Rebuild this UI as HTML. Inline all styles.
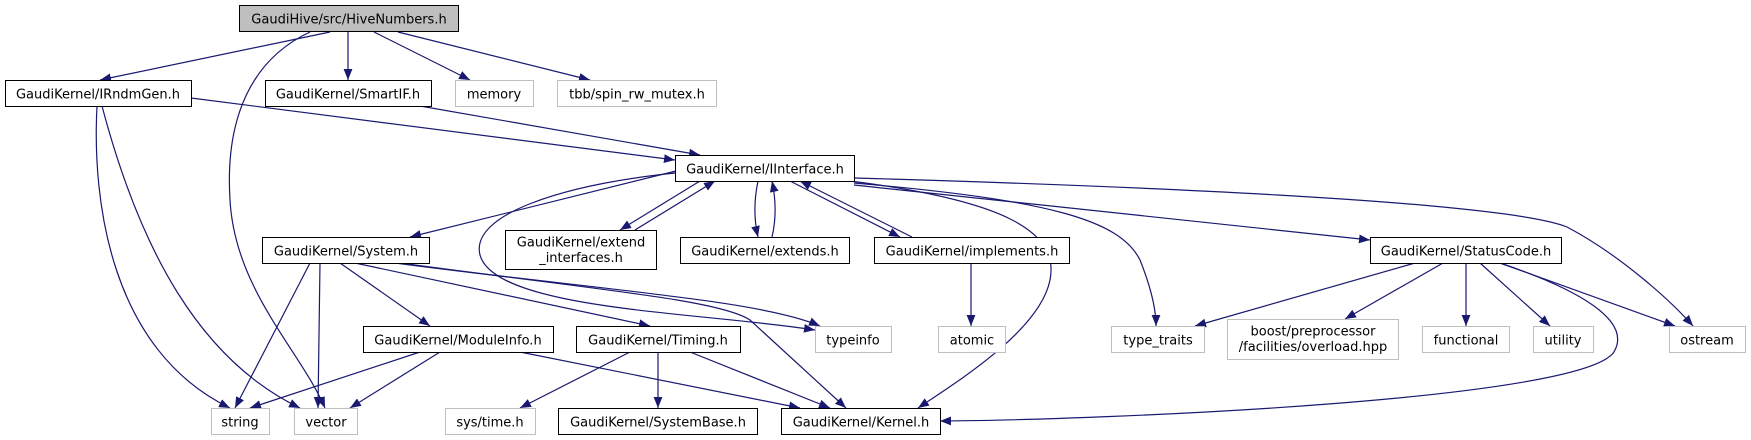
<!DOCTYPE html>
<html><head><meta charset="utf-8"><style>
html,body{margin:0;padding:0;background:#fff;width:1751px;height:440px;overflow:hidden}
svg text{font-family:"DejaVu Sans","Liberation Sans",sans-serif;font-size:13px;fill:#000}
</style></head><body>
<svg width="1751" height="440" viewBox="0 0 1751 440" xmlns="http://www.w3.org/2000/svg">
<defs><marker id="a" viewBox="0 0 10 10" refX="10" refY="5" markerWidth="11" markerHeight="11" markerUnits="userSpaceOnUse" orient="auto"><path d="M0,1 L10,5 L0,9 z" fill="#191970"/></marker></defs>
<g fill="none" stroke="#191970" stroke-width="1.2" marker-end="url(#a)">
<path d="M330,32 L100,80"/>
<path d="M310,32 C250,60 225,120 230,200 C235,290 300,350 325,408"/>
<path d="M348,32 L348,80"/>
<path d="M374,32 L470,80"/>
<path d="M398,32 L590,80"/>
<path d="M191,98 L675,160"/>
<path d="M97,106 C92,200 110,350 230,408"/>
<path d="M102,106 C140,250 200,360 300,408"/>
<path d="M420,106 L700,155"/>
<path d="M680,170 L410,237"/>
<path d="M675,173 C560,185 470,215 480,255 C495,310 700,312 815,330"/>
<path d="M700,181 L620,230"/>
<path d="M635,230 L715,181"/>
<path d="M758,181 C754,200 754,220 758,237"/>
<path d="M772,237 C776,220 776,200 772,181"/>
<path d="M790,181 L900,237"/>
<path d="M912,237 L800,181"/>
<path d="M850,181 C1000,200 1060,230 1050,280 C1040,330 960,380 918,408"/>
<path d="M854,183 C1050,200 1120,220 1140,260 C1152,290 1156,310 1156,326"/>
<path d="M854,185 L1370,240"/>
<path d="M854,178 C1100,185 1500,200 1567,227 C1620,255 1670,300 1693,326"/>
<path d="M310,263 L235,408"/>
<path d="M320,263 L318,408"/>
<path d="M340,263 L430,326"/>
<path d="M355,263 L650,326"/>
<path d="M395,263 C600,290 760,300 820,326"/>
<path d="M400,263 C600,290 720,300 750,320 L846,408"/>
<path d="M420,352 L250,408"/>
<path d="M440,352 L350,408"/>
<path d="M520,352 L800,408"/>
<path d="M630,352 L520,408"/>
<path d="M658,352 L658,408"/>
<path d="M690,352 L830,408"/>
<path d="M971,263 L971,326"/>
<path d="M1415,263 L1195,326"/>
<path d="M1443,263 L1345,319"/>
<path d="M1466,263 L1466,326"/>
<path d="M1480,263 L1550,326"/>
<path d="M1500,263 L1675,326"/>
<path d="M1500,263 C1580,290 1630,320 1615,350 C1595,400 1100,420 940,421"/>
</g>
<g stroke-width="1">
<rect x="239.5" y="5.5" width="219" height="26" fill="#bfbfbf" stroke="#000"/>
<g fill="#fff" stroke="#000">
<rect x="5.5" y="80.5" width="186" height="26"/>
<rect x="265.5" y="80.5" width="166" height="26"/>
<rect x="675.5" y="155.5" width="179" height="26"/>
<rect x="262.5" y="237.5" width="167" height="26"/>
<rect x="505.5" y="230.5" width="151" height="39"/>
<rect x="680.5" y="237.5" width="169" height="26"/>
<rect x="874.5" y="237.5" width="195" height="26"/>
<rect x="1370.5" y="237.5" width="191" height="26"/>
<rect x="363.5" y="326.5" width="190" height="26"/>
<rect x="576.5" y="326.5" width="164" height="26"/>
<rect x="558.5" y="408.5" width="199" height="26"/>
<rect x="781.5" y="408.5" width="159" height="26"/>
</g>
<g fill="#fff" stroke="#bfbfbf">
<rect x="455.5" y="80.5" width="78" height="26"/>
<rect x="557.5" y="80.5" width="159" height="26"/>
<rect x="815.5" y="326.5" width="76" height="26"/>
<rect x="938.5" y="326.5" width="67" height="26"/>
<rect x="1111.5" y="326.5" width="93" height="26"/>
<rect x="1227.5" y="319.5" width="171" height="40"/>
<rect x="1422.5" y="326.5" width="87" height="26"/>
<rect x="1533.5" y="326.5" width="60" height="26"/>
<rect x="1669.5" y="326.5" width="76" height="26"/>
<rect x="211.5" y="408.5" width="58" height="26"/>
<rect x="294.5" y="408.5" width="63" height="26"/>
<rect x="445.5" y="408.5" width="90" height="26"/>
</g>
</g>
<g text-anchor="middle">
<text x="349" y="23.5">GaudiHive/src/HiveNumbers.h</text>
<text x="98" y="98.5">GaudiKernel/IRndmGen.h</text>
<text x="348" y="98.5">GaudiKernel/SmartIF.h</text>
<text x="494" y="98.5">memory</text>
<text x="637" y="98.5">tbb/spin_rw_mutex.h</text>
<text x="765" y="173.5">GaudiKernel/IInterface.h</text>
<text x="346" y="255.5">GaudiKernel/System.h</text>
<text x="581" y="246.5">GaudiKernel/extend</text>
<text x="581" y="262">_interfaces.h</text>
<text x="765" y="255.5">GaudiKernel/extends.h</text>
<text x="972" y="255.5">GaudiKernel/implements.h</text>
<text x="1466" y="255.5">GaudiKernel/StatusCode.h</text>
<text x="458" y="344.5">GaudiKernel/ModuleInfo.h</text>
<text x="658" y="344.5">GaudiKernel/Timing.h</text>
<text x="853" y="344.5">typeinfo</text>
<text x="972" y="344.5">atomic</text>
<text x="1158" y="344.5">type_traits</text>
<text x="1313" y="335.5">boost/preprocessor</text>
<text x="1313" y="351">/facilities/overload.hpp</text>
<text x="1466" y="344.5">functional</text>
<text x="1563" y="344.5">utility</text>
<text x="1707" y="344.5">ostream</text>
<text x="240" y="426.5">string</text>
<text x="326" y="426.5">vector</text>
<text x="490" y="426.5">sys/time.h</text>
<text x="658" y="426.5">GaudiKernel/SystemBase.h</text>
<text x="861" y="426.5">GaudiKernel/Kernel.h</text>
</g>
</svg>
</body></html>
